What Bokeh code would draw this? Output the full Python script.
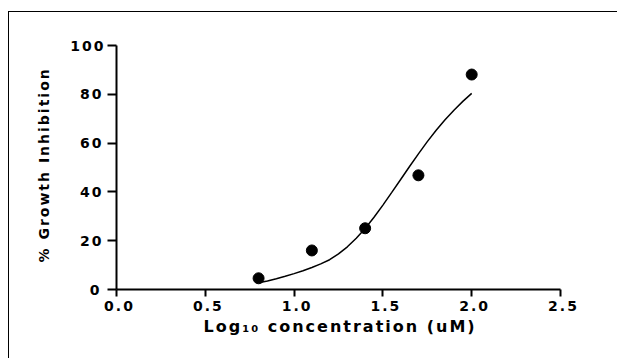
from bokeh.plotting import figure
from bokeh.models import Range1d, FixedTicker, NumeralTickFormatter, Title
from bokeh.embed import file_html
from bokeh.resources import INLINE

# Measured data points
conc_log = [0.8, 1.1, 1.4, 1.7, 2.0]
inhibition = [4.6, 16.0, 25.1, 46.8, 88.1]

# Fitted curve
fit_x = [0.80, 0.85, 0.90, 0.95, 1.00, 1.05, 1.10, 1.15, 1.20, 1.25, 1.30, 1.35, 1.40,
         1.45, 1.50, 1.55, 1.60, 1.65, 1.70, 1.75, 1.80, 1.85, 1.90, 1.95, 2.00]
fit_y = [2.8, 3.5, 4.4, 5.4, 6.5, 7.7, 9.0, 10.5, 12.2, 14.6, 17.5, 21.0, 25.0,
         29.6, 34.6, 39.8, 45.1, 50.4, 55.6, 60.6, 65.3, 69.6, 73.5, 77.1, 80.4]

x_ticks = [0.0, 0.5, 1.0, 1.5, 2.0, 2.5]
y_ticks = [0, 20, 40, 60, 80, 100]

x_title = "Log\u2081\u2080 concentration (uM)"
y_title = "% Growth Inhibition"

LS = 2  # letter spacing (px) applied to all texts

p = figure(width=609, height=347, output_backend="svg", toolbar_location=None,
           x_range=Range1d(0, 2.5), y_range=Range1d(0, 100),
           min_border_left=107, min_border_right=58,
           min_border_top=33, min_border_bottom=70)
p.margin = (11, 0, 0, 8)
p.styles = {"border-left": "1.5px solid black", "border-top": "1.5px solid black",
            "letter-spacing": f"{LS}px"}
p.outline_line_color = None
p.xgrid.visible = False
p.ygrid.visible = False
p.background_fill_color = "white"
p.border_fill_color = "white"

p.line(fit_x, fit_y, line_width=1.5, line_color="black")
p.scatter(conc_log, inhibition, size=11, fill_color="black", line_color="black")

font = "DejaVu Sans"
for ax in (p.xaxis[0], p.yaxis[0]):
    ax.axis_line_width = 2
    ax.axis_line_color = "black"
    ax.major_tick_line_width = 2
    ax.major_tick_line_color = "black"
    ax.major_tick_in = 0
    ax.minor_tick_line_color = None
    ax.major_label_text_font = font
    ax.major_label_text_font_style = "bold"
    ax.major_label_text_font_size = "14px"
    ax.major_label_text_color = "black"

p.xaxis[0].ticker = FixedTicker(ticks=x_ticks)
p.xaxis[0].formatter = NumeralTickFormatter(format="0.0")
p.xaxis[0].major_tick_out = 7
p.xaxis[0].major_label_standoff = 4

p.yaxis[0].ticker = FixedTicker(ticks=y_ticks)
p.yaxis[0].formatter = NumeralTickFormatter(format="0")
p.yaxis[0].major_tick_out = 9
p.yaxis[0].major_label_standoff = 4 + 2 * LS

# Axis titles as side-panel titles, left aligned with an offset so that the
# letter-spaced text sits centred under / beside the axes.
p.add_layout(Title(text=x_title, align="left", offset=87, vertical_align="top",
                   standoff=6, text_font=font, text_font_style="bold",
                   text_font_size="16px", text_color="black"), "below")
p.add_layout(Title(text=y_title, align="left", offset=27, vertical_align="bottom",
                   standoff=31, text_font=font, text_font_style="bold",
                   text_font_size="14px", text_color="black"), "left")

open("out.html", "w").write(file_html(p, INLINE))
